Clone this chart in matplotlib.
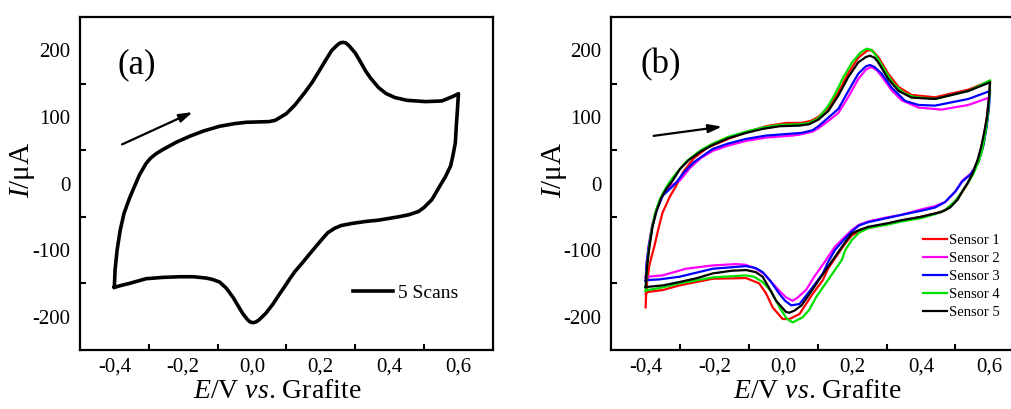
import matplotlib
matplotlib.use("Agg")
import matplotlib.pyplot as plt

plt.rcParams['font.family'] = ['Liberation Serif', 'DejaVu Serif']
plt.rcParams['mathtext.fontset'] = 'custom'
plt.rcParams['mathtext.rm'] = 'Liberation Serif'
plt.rcParams['mathtext.it'] = 'Liberation Serif:italic'

# potential ticks (V) and current ticks (uA)
xticks = [-0.4, -0.2, 0.0, 0.2, 0.4, 0.6]
xtick_labels = ['-0,4', '-0,2', '0,0', '0,2', '0,4', '0,6']
xminor = [-0.3, -0.1, 0.1, 0.3, 0.5]
yticks = [-200, -100, 0, 100, 200]
ytick_labels = ['-200', '-100', '0', '100', '200']
yminor = [-150, -50, 50, 150]

# (a) 5 overlapping scans, anodic then cathodic branch
a_fwd_E = [-0.400, -0.398, -0.392, -0.383, -0.372, -0.356, -0.342, -0.327, -0.308, -0.295,
           -0.278, -0.259, -0.220, -0.181, -0.140, -0.094, -0.050, -0.016, 0.020, 0.050,
           0.068, 0.081, 0.100, 0.125, 0.154, 0.175, 0.193, 0.215, 0.232, 0.250,
           0.258, 0.265, 0.273, 0.282, 0.300, 0.315, 0.329, 0.345, 0.368, 0.390,
           0.416, 0.450, 0.504, 0.552, 0.585, 0.600]
a_fwd_I = [-155, -130, -100, -70, -45, -22, -5, 13, 30, 38,
           45, 51, 62, 71, 79, 86, 90, 92, 92.5, 93,
           95, 99, 105, 118, 137, 152, 167, 186, 200, 209,
           211.5, 212, 211, 207, 196, 183, 170, 158, 144, 135,
           129, 125, 123, 124, 131, 135]
a_rev_E = [0.600, 0.597, 0.594, 0.591, 0.584, 0.577, 0.562, 0.548, 0.523, 0.500,
           0.484, 0.455, 0.426, 0.368, 0.330, 0.290, 0.260, 0.241, 0.220, 0.203,
           0.185, 0.164, 0.145, 0.125, 0.110, 0.096, 0.080, 0.061, 0.040, 0.020,
           0.011, 0.003, -0.005, -0.012, -0.026, -0.040, -0.055, -0.075, -0.094, -0.115,
           -0.133, -0.170, -0.210, -0.260, -0.308, -0.356, -0.380, -0.400]
a_rev_I = [135, 110, 88, 61, 42, 26, 10, -2, -24, -36,
           -42, -47, -50, -55, -57, -60, -63, -67, -74, -84,
           -95, -108, -120, -132, -143, -154, -166, -181, -195, -205,
           -208, -209, -208, -205, -196, -184, -171, -157, -148, -144,
           -142, -140, -140, -141, -143, -150, -153, -156]

# (b) one cycle per sensor
s1_E = [-0.400, -0.399, -0.396, -0.390, -0.383, -0.375, -0.363, -0.351, -0.330, -0.312,
        -0.290, -0.260, -0.220, -0.160, -0.108, -0.050, 0.008, 0.053, 0.080, 0.102,
        0.131, 0.160, 0.189, 0.218, 0.245, 0.258, 0.276, 0.305, 0.335, 0.373,
        0.441, 0.538, 0.601,
        0.598, 0.592, 0.584, 0.575, 0.565, 0.550, 0.536, 0.520, 0.500, 0.470,
        0.441, 0.400, 0.344, 0.300, 0.247, 0.220, 0.199, 0.180, 0.160, 0.130,
        0.115, 0.085, 0.047, 0.018, -0.002, -0.031, -0.050, -0.070, -0.108, -0.205,
        -0.302, -0.350, -0.396, -0.400]
s1_I = [-186, -170, -150, -125, -110, -95, -68, -44, -20, -4,
        18, 38, 54, 67, 77, 86, 91, 91, 94, 100,
        114, 137, 166, 189, 200, 200, 190, 165, 145, 133,
        129.5, 141, 154,
        130, 100, 75, 52, 34, 14, 0, -13, -27, -40,
        -45, -50, -56, -61, -67, -72, -78, -90, -105, -128,
        -145, -166, -196, -203.5, -203.5, -186, -165, -150, -142, -143,
        -153, -160, -163, -166]

s2_E = [-0.400, -0.397, -0.391, -0.381, -0.368, -0.350, -0.325, -0.300, -0.270, -0.240,
        -0.205, -0.160, -0.108, -0.050, 0.027, 0.053, 0.085, 0.102, 0.131, 0.160,
        0.189, 0.218, 0.240, 0.255, 0.270, 0.286, 0.315, 0.344, 0.393, 0.460,
        0.538, 0.598,
        0.596, 0.590, 0.580, 0.565, 0.545, 0.520, 0.500, 0.470, 0.441, 0.400,
        0.344, 0.300, 0.247, 0.220, 0.199, 0.175, 0.150, 0.120, 0.090, 0.066,
        0.040, 0.027, 0.008, -0.010, -0.031, -0.055, -0.079, -0.110, -0.137, -0.205,
        -0.283, -0.351, -0.395, -0.400]
s2_I = [-141, -118, -92, -62, -38, -17, -3, 5, 24, 38,
        49, 57, 64, 69, 72, 74, 78, 83, 94, 106,
        130, 157, 171, 175, 171, 161, 140, 125, 114, 111,
        118, 129,
        110, 85, 55, 30, 15, 4, -12, -28, -34, -39,
        -47, -51, -57, -62, -70, -82, -95, -118, -140, -160,
        -172, -176, -171, -162, -150, -136, -128, -122, -121, -123,
        -128, -138, -140, -141]

s3_E = [-0.400, -0.397, -0.391, -0.381, -0.368, -0.350, -0.325, -0.310, -0.290, -0.260,
        -0.205, -0.160, -0.108, -0.050, 0.027, 0.053, 0.085, 0.102, 0.131, 0.160,
        0.189, 0.218, 0.240, 0.252, 0.265, 0.286, 0.315, 0.354, 0.393, 0.441,
        0.538, 0.601,
        0.598, 0.592, 0.582, 0.567, 0.545, 0.520, 0.500, 0.470, 0.441, 0.400,
        0.344, 0.300, 0.247, 0.220, 0.199, 0.175, 0.150, 0.130, 0.115, 0.085,
        0.047, 0.023, 0.005, -0.011, -0.035, -0.060, -0.080, -0.108, -0.205, -0.302,
        -0.360, -0.395, -0.400]
s3_I = [-146, -120, -95, -65, -40, -18, -6, 2, 16, 32,
        52, 60, 67, 72, 75, 76, 80, 86, 99, 112,
        139, 165, 176, 178, 175, 165, 144, 124, 118, 117,
        127, 139,
        115, 88, 58, 32, 14, 3, -12, -28, -36, -41,
        -47, -52, -58, -63, -72, -85, -100, -118, -135, -156,
        -181, -183, -176, -166, -148, -133, -127, -124, -128, -140,
        -144, -145, -146]

s4_E = [-0.400, -0.397, -0.391, -0.383, -0.373, -0.360, -0.345, -0.331, -0.310, -0.280,
        -0.240, -0.205, -0.160, -0.108, -0.060, -0.011, 0.047, 0.075, 0.102, 0.131,
        0.150, 0.175, 0.200, 0.225, 0.242, 0.255, 0.270, 0.295, 0.320, 0.350,
        0.380, 0.441, 0.538, 0.601,
        0.599, 0.594, 0.587, 0.578, 0.567, 0.552, 0.538, 0.520, 0.500, 0.470,
        0.441, 0.400, 0.344, 0.300, 0.247, 0.220, 0.199, 0.180, 0.170, 0.150,
        0.115, 0.095, 0.075, 0.056, 0.027, 0.010, -0.011, -0.035, -0.060, -0.085,
        -0.108, -0.205, -0.302, -0.360, -0.395, -0.400]
s4_I = [-161, -130, -100, -70, -45, -25, -10, 2, 16, 34,
        50, 60, 70, 78, 84, 88, 89, 91, 98, 117,
        134, 160, 182, 197, 202.5, 201, 192, 170, 150, 136,
        130, 127, 139, 155,
        130, 100, 75, 50, 32, 14, 2, -12, -26, -40,
        -46, -52, -57, -62, -67, -74, -85, -100, -115, -130,
        -156, -171, -190, -201, -208.6, -203, -186, -162, -148, -140,
        -138, -141, -150, -157, -160, -161]

s5_E = [-0.400, -0.396, -0.389, -0.380, -0.370, -0.355, -0.341, -0.322, -0.300, -0.273,
        -0.240, -0.205, -0.160, -0.108, -0.060, -0.011, 0.047, 0.075, 0.102, 0.131,
        0.160, 0.189, 0.218, 0.240, 0.252, 0.265, 0.276, 0.305, 0.335, 0.373,
        0.441, 0.538, 0.601,
        0.598, 0.592, 0.584, 0.575, 0.565, 0.550, 0.536, 0.520, 0.507, 0.485,
        0.459, 0.441, 0.400, 0.344, 0.300, 0.247, 0.220, 0.199, 0.180, 0.160,
        0.130, 0.102, 0.076, 0.053, 0.032, 0.018, 0.008, -0.021, -0.040, -0.060,
        -0.080, -0.108, -0.150, -0.205, -0.250, -0.302, -0.350, -0.390, -0.400]
s5_I = [-155, -125, -95, -65, -44, -22, -9, 4, 22, 36,
        48, 58, 68, 76, 82, 86, 87, 89, 96, 109,
        132, 160, 182, 190, 192, 189, 182, 157, 139, 129,
        127, 139, 152,
        130, 100, 77, 55, 36, 15, 1, -12, -24, -36,
        -43, -45, -50, -55, -60, -65, -70, -75, -88, -103,
        -125, -146, -166, -183, -191, -194, -193, -176, -158, -140,
        -133, -130, -131, -135, -142, -148, -153, -155, -156]

sensor_names = ['Sensor 1', 'Sensor 2', 'Sensor 3', 'Sensor 4', 'Sensor 5']
sensor_colors = ['#ff0000', '#ff00ff', '#0000ff', '#00e000', '#000000']


def style_axes(ax):
    ax.set_xlim(-0.5, 0.7)
    ax.set_ylim(-250, 250)
    ax.set_xticks(xticks)
    ax.set_xticklabels(xtick_labels)
    ax.set_yticks(yticks)
    ax.set_yticklabels(ytick_labels)
    ax.set_xticks(xminor, minor=True)
    ax.set_yticks(yminor, minor=True)
    ax.tick_params(which='major', length=0, labelsize=15)
    ax.tick_params(axis='x', which='major', pad=5.5)
    ax.tick_params(axis='y', which='major', pad=7)
    ax.tick_params(which='minor', direction='in', length=4, width=1.5)
    for sp in ax.spines.values():
        sp.set_linewidth(1.6)
    ax.set_xlabel('$E$/V $vs$. Grafite', fontsize=20)
    ax.set_ylabel('$I$/\u03bcA', fontsize=21)


fig = plt.figure(figsize=(10.12, 4.09), dpi=100)
ax1 = fig.add_axes([0.079, 0.1443, 0.408, 0.814])
ax2 = fig.add_axes([0.604, 0.1443, 0.408, 0.814])

# panel (a)
ax1.plot(a_fwd_E + a_rev_E, a_fwd_I + a_rev_I, color='black', lw=2.6,
         solid_joinstyle='round', label='5 Scans')
style_axes(ax1)
ax1.xaxis.set_label_coords(0.477, -0.088)
ax1.yaxis.set_label_coords(-0.104, 0.54)
ax1.text(0.138, 0.856, '(a)', transform=ax1.transAxes, fontsize=25,
         ha='center', va='center')
ax1.annotate('', xy=(-0.165, 109), xytext=(-0.385, 57),
             arrowprops=dict(arrowstyle='-|>,head_length=0.8,head_width=0.25',
                             color='black', lw=1.6))
ax1.legend(loc='center left', bbox_to_anchor=(0.661, 0.171), frameon=False,
           fontsize=14, handlelength=2.05, handletextpad=0.26,
           borderpad=0, borderaxespad=0)

# panel (b)
sensors = [(s1_E, s1_I), (s2_E, s2_I), (s3_E, s3_I), (s4_E, s4_I), (s5_E, s5_I)]
for (E, I), name, col in zip(sensors, sensor_names, sensor_colors):
    ax2.plot(E, I, color=col, lw=1.6, solid_joinstyle='round', label=name)
style_axes(ax2)
ax2.xaxis.set_label_coords(0.5, -0.088)
ax2.yaxis.set_label_coords(-0.102, 0.54)
ax2.text(0.119, 0.856, '(b)', transform=ax2.transAxes, fontsize=25,
         ha='center', va='center')
ax2.annotate('', xy=(-0.170, 86), xytext=(-0.385, 71),
             arrowprops=dict(arrowstyle='-|>,head_length=0.8,head_width=0.25',
                             color='black', lw=1.6))
ax2.legend(loc='center left', bbox_to_anchor=(0.755, 0.222), frameon=False,
           fontsize=10.5, handlelength=1.65, handletextpad=0.1,
           labelspacing=0.33, borderpad=0, borderaxespad=0)

fig.savefig('out.png', dpi=100)
